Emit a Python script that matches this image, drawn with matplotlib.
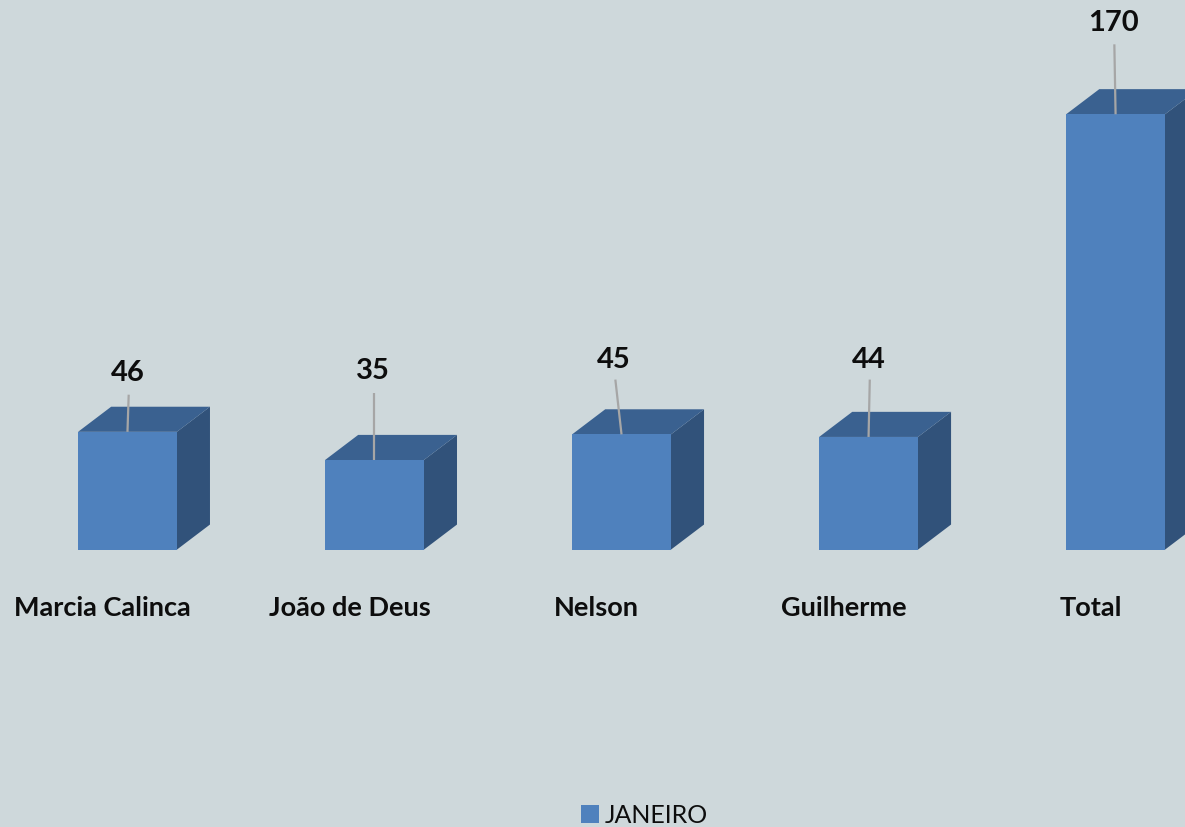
# bar chart (3d-look) of January values per person

import numpy as np
import matplotlib.pyplot as plt
from matplotlib.patches import Polygon, Patch

plt.close('all')

# data
names  = ['Marcia Calinca', 'João de Deus', 'Nelson', 'Guilherme', 'Total']
values = [46, 35, 45, 44, 170]
series = 'JANEIRO'

# colours
bg    = '#CED8DB'
front = '#4F81BD'
top   = '#3A6190'
side  = '#31527A'
ink   = '#0D0D0D'

plt.rcParams['font.family'] = ['Lato', 'DejaVu Sans']

fig = plt.figure(figsize=(11.85, 8.28), dpi=100, facecolor=bg)
ax = fig.add_axes([0, 0, 1, 1])
ax.set_facecolor(bg)

# axis scale: 247 px per category, ~2.56 px per unit
ax.set_xlim(-0.516, 4.281)
ax.set_ylim(-108.3, 215.0)
ax.axis('off')

w  = 0.40    # bar width (category units)
dx = 0.134   # depth in x
dy = 9.8     # depth in y (value units)

x = np.arange(len(values))
for xi, v in zip(x, values):
    x0, x1 = xi - w / 2, xi + w / 2
    ax.add_patch(Polygon([(x1, 0), (x1 + dx, dy), (x1 + dx, v + dy), (x1, v)],
                         closed=True, facecolor=side, edgecolor='none', zorder=2))
    ax.add_patch(Polygon([(x0, v), (x0 + dx, v + dy), (x1 + dx, v + dy), (x1, v)],
                         closed=True, facecolor=top, edgecolor='none', zorder=2))
    ax.bar(xi, v, width=w, color=front, edgecolor='none', zorder=3)

# value labels with leader lines
lab_dx   = [0.005, 0.0, -0.025, 0.005, -0.005]
lab_y    = [69.5, 70.0, 74.6, 74.6, 205.9]
line_top = [60.5, 61.0, 66.4, 66.4, 197.3]
for xi, v, ldx, ly, lt in zip(x, values, lab_dx, lab_y, line_top):
    ax.plot([xi, xi + ldx], [v, lt], color='#A6A6A6', lw=1.6, zorder=4,
            solid_capstyle='butt')
    ax.text(xi + ldx - 0.005, ly, str(v), ha='center', va='center',
            fontsize=21, fontweight='bold', color=ink, zorder=5)

# category labels
for xi, n in zip(x, names):
    ax.text(xi - 0.10, -22.3, n, ha='center', va='center',
            fontsize=19.5, fontweight='bold', color=ink)

fig.legend(handles=[Patch(facecolor=front, edgecolor='none', label=series)],
           loc='center', bbox_to_anchor=(644 / 1185, 1 - 816 / 828),
           frameon=False, fontsize=18, handlelength=0.75, handleheight=0.75,
           handletextpad=0.2, labelcolor=ink)

fig.savefig('out.png', dpi=100, facecolor=bg)
